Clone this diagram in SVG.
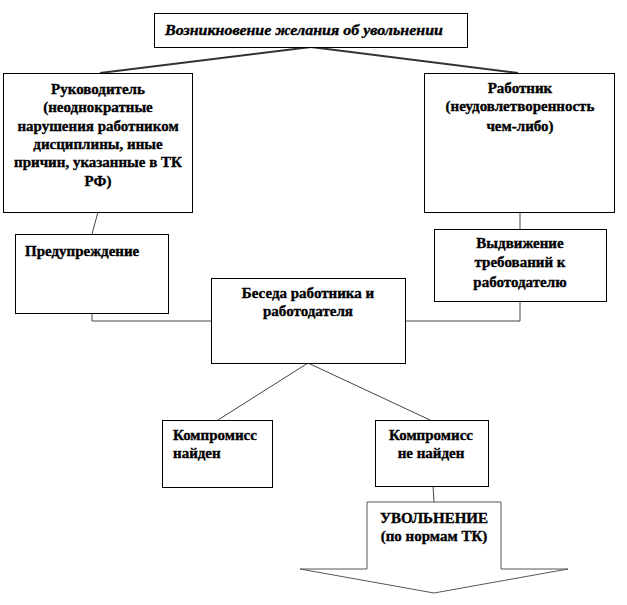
<svg xmlns="http://www.w3.org/2000/svg" width="627" height="605" viewBox="0 0 627 605">
<style>
.box{fill:#fff;stroke:#000;stroke-width:1}
.t{font-family:"Liberation Serif","Times New Roman",serif;font-weight:bold;font-size:15px;fill:#000;stroke:#000;stroke-width:0.35}
.c{text-anchor:middle}
.title{font-style:italic;font-size:14px}
.con{fill:none;stroke:#444;stroke-width:1}
.con2{fill:none;stroke:#333;stroke-width:1.8}
</style>
<rect width="627" height="605" fill="#fff"/>
<g id="connectors">
<path class="con2" d="M311,47 L100,73"/>
<path class="con2" d="M311,47 L518,73"/>
<path class="con" d="M98,212 L92,234"/>
<path class="con" d="M520,212 L520,229"/>
<path class="con" d="M92,313 L92,321 L211,321"/>
<path class="con" d="M520,301 L520,321 L405,321"/>
<path class="con" d="M308,363 L218,420"/>
<path class="con" d="M308,363 L430,420"/>
<path class="con" d="M433,486 L434,502"/>
</g>
<g id="title">
<rect class="box" x="154.5" y="13.5" width="313" height="34"/>
<text class="t title" x="165" y="35" textLength="278" lengthAdjust="spacingAndGlyphs">Возникновение желания об увольнении</text>
</g>
<g id="manager">
<rect class="box" x="3.5" y="73.5" width="189" height="139"/>
<text class="t c" x="98" y="94">Руководитель</text>
<text class="t c" x="98" y="112">(неоднократные</text>
<text class="t c" x="98" y="130.5">нарушения  работником</text>
<text class="t c" x="98" y="149">дисциплины, иные</text>
<text class="t c" x="98" y="167">причин, указанные в ТК</text>
<text class="t c" x="98" y="186">РФ)</text>
</g>
<g id="employee">
<rect class="box" x="424.5" y="73.5" width="190" height="139"/>
<text class="t c" x="520" y="93">Работник</text>
<text class="t c" x="520" y="111">(неудовлетворенность</text>
<text class="t c" x="520" y="131">чем-либо)</text>
</g>
<g id="warning">
<rect class="box" x="15.5" y="234.5" width="153" height="79"/>
<text class="t" x="25" y="256">Предупреждение</text>
</g>
<g id="demands">
<rect class="box" x="434.5" y="229.5" width="172" height="72"/>
<text class="t c" x="520" y="248">Выдвижение</text>
<text class="t c" x="520" y="267">требований к</text>
<text class="t c" x="520" y="287">работодателю</text>
</g>
<g id="talk">
<rect class="box" x="211.5" y="278.5" width="194" height="85"/>
<text class="t c" x="308" y="298">Беседа работника и</text>
<text class="t c" x="308" y="316">работодателя</text>
</g>
<g id="found">
<rect class="box" x="162.5" y="420.5" width="110" height="67"/>
<text class="t" x="173" y="440">Компромисс</text>
<text class="t" x="173" y="458">найден</text>
</g>
<g id="notfound">
<rect class="box" x="375.5" y="420.5" width="113" height="66"/>
<text class="t c" x="431" y="440">Компромисс</text>
<text class="t c" x="431" y="458">не найден</text>
</g>
<g id="dismissal">
<path d="M367,502 L501,502 L501,569 L568,569 L434,593 L300,569 L367,569 Z" fill="#fff" stroke="#555" stroke-width="1"/>
<text class="t c" x="434" y="523">УВОЛЬНЕНИЕ</text>
<text class="t c" x="434" y="541">(по нормам ТК)</text>
</g>
</svg>
